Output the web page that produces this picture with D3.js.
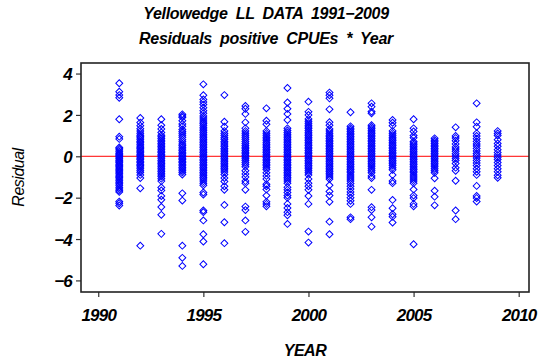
<!DOCTYPE html>
<html>
<head>
<meta charset="utf-8">
<script src="https://cdn.jsdelivr.net/npm/d3@7"></script>
<style>
  body { margin: 0; background: #fff; }
  svg text { font-family: "Liberation Sans", Arial, Helvetica, sans-serif; font-style: italic; font-weight: bold; fill: #000; }
  .tick-label { font-size: 17px; letter-spacing: -0.8px; }
  .title { font-size: 16px; word-spacing: 4px; letter-spacing: -0.3px; }
  .axis-title { font-size: 16px; letter-spacing: -0.5px; }
</style>
</head>
<body>
<svg id="chart"></svg>
<script>
// residuals of positive CPUEs, one array per year
const years = [1991, 1992, 1993, 1994, 1995, 1996, 1997, 1998, 1999, 2000,
  2001, 2002, 2003, 2004, 2005, 2006, 2007, 2008, 2009];

const r1991 = [3.53, 3.12, 2.96, 2.83, 1.79, 0.95, 0.84, 0.43, 0.36, 0.3, 0.22, 0.15, 0.1, 0.04, -0.02, -0.08, -0.13, -0.2, -0.26, -0.31, -0.38, -0.45, -0.5, -0.57, -0.63, -0.7, -0.76, -0.82, -0.9, -0.97, -1.03, -1.1, -1.18, -1.25, -1.33, -1.4, -1.5, -1.58, -1.66, -1.72, -2.19, -2.27, -2.38];
const r1992 = [1.85, 1.63, 1.48, 1.33, 1.22, 1.12, 1.02, 0.95, 0.88, 0.8, 0.72, 0.66, 0.58, 0.5, 0.44, 0.38, 0.3, 0.24, 0.17, 0.1, 0.04, -0.03, -0.1, -0.16, -0.24, -0.3, -0.38, -0.45, -0.52, -0.6, -0.7, -0.78, -0.9, -1.05, -1.55, -4.32];
const r1993 = [1.79, 1.5, 1.32, 1.15, 1.02, 0.94, 0.86, 0.78, 0.7, 0.62, 0.55, 0.47, 0.4, 0.32, 0.25, 0.18, 0.1, 0.03, -0.04, -0.12, -0.2, -0.27, -0.35, -0.42, -0.5, -0.58, -0.66, -0.74, -0.82, -0.9, -0.98, -1.08, -1.2, -1.51, -1.65, -1.92, -2.1, -2.45, -2.83, -3.75];
const r1994 = [2.03, 1.95, 1.88, 1.72, 1.56, 1.45, 1.3, 1.2, 1.12, 1.02, 0.92, 0.8, 0.7, 0.6, 0.52, 0.44, 0.35, 0.28, 0.2, 0.12, 0.05, -0.02, -0.1, -0.16, -0.24, -0.3, -0.38, -0.46, -0.54, -0.62, -0.7, -0.78, -0.88, -1.79, -2.14, -4.32, -4.91, -5.3];
const r1995 = [3.48, 2.95, 2.75, 2.62, 2.5, 2.35, 2.2, 2.08, 1.95, 1.85, 1.75, 1.66, 1.58, 1.5, 1.4, 1.32, 1.24, 1.15, 1.06, 0.98, 0.9, 0.82, 0.74, 0.66, 0.58, 0.5, 0.42, 0.34, 0.26, 0.18, 0.1, 0.02, -0.06, -0.14, -0.22, -0.3, -0.38, -0.46, -0.54, -0.62, -0.7, -0.78, -0.86, -0.94, -1.02, -1.1, -1.2, -1.3, -1.4, -1.75, -1.85, -2.62, -2.7, -3.1, -3.77, -4.12, -5.22];
const r1996 = [2.96, 1.67, 1.43, 1.22, 1.1, 1.0, 0.9, 0.82, 0.72, 0.64, 0.55, 0.47, 0.38, 0.3, 0.22, 0.14, 0.06, -0.02, -0.1, -0.18, -0.26, -0.34, -0.42, -0.5, -0.58, -0.66, -0.76, -0.88, -1.05, -1.22, -1.45, -1.62, -2.35, -3.19, -4.2];
const r1997 = [2.43, 2.3, 2.05, 1.64, 1.35, 1.22, 1.12, 1.02, 0.92, 0.82, 0.72, 0.62, 0.52, 0.44, 0.36, 0.28, 0.2, 0.12, 0.04, -0.04, -0.12, -0.2, -0.3, -0.4, -0.5, -0.7, -0.85, -1.0, -1.2, -1.3, -1.62, -2.43, -2.6, -3.1, -3.65];
const r1998 = [2.32, 1.72, 1.55, 1.22, 1.12, 1.02, 0.92, 0.84, 0.75, 0.66, 0.58, 0.5, 0.42, 0.34, 0.26, 0.18, 0.1, 0.02, -0.06, -0.14, -0.22, -0.3, -0.38, -0.46, -0.55, -0.64, -0.8, -0.95, -1.1, -1.35, -1.45, -1.6, -1.9, -2.2, -2.3, -2.42];
const r1999 = [3.3, 2.6, 2.3, 2.05, 1.75, 1.35, 1.25, 1.15, 1.06, 0.98, 0.9, 0.82, 0.74, 0.66, 0.58, 0.5, 0.42, 0.34, 0.26, 0.18, 0.1, 0.02, -0.06, -0.14, -0.22, -0.3, -0.38, -0.46, -0.54, -0.62, -0.7, -0.78, -0.86, -0.94, -1.02, -1.1, -1.2, -1.3, -1.5, -1.62, -1.75, -1.9, -2.0, -2.3, -2.5, -2.7, -2.85, -3.27];
const r2000 = [2.64, 2.15, 2.0, 1.8, 1.7, 1.6, 1.5, 1.42, 1.34, 1.25, 1.16, 1.08, 1.0, 0.92, 0.84, 0.76, 0.68, 0.6, 0.52, 0.44, 0.36, 0.28, 0.2, 0.12, 0.04, -0.04, -0.12, -0.2, -0.28, -0.36, -0.44, -0.52, -0.6, -0.7, -0.8, -0.9, -1.1, -1.3, -1.45, -1.62, -1.92, -2.3, -3.64, -4.17];
const r2001 = [3.08, 2.95, 2.8, 2.27, 1.65, 1.5, 1.32, 1.22, 1.12, 1.02, 0.94, 0.86, 0.78, 0.7, 0.62, 0.54, 0.46, 0.38, 0.3, 0.22, 0.14, 0.06, -0.02, -0.1, -0.18, -0.26, -0.34, -0.42, -0.5, -0.58, -0.66, -0.74, -0.82, -0.9, -1.0, -1.1, -1.4, -1.7, -1.9, -2.2, -3.16, -3.77];
const r2002 = [2.13, 1.45, 1.36, 1.28, 1.2, 1.12, 1.04, 0.96, 0.88, 0.8, 0.72, 0.64, 0.56, 0.48, 0.4, 0.32, 0.24, 0.16, 0.08, 0.0, -0.08, -0.16, -0.24, -0.32, -0.4, -0.48, -0.56, -0.64, -0.72, -0.8, -0.9, -1.0, -1.1, -1.2, -1.32, -1.45, -1.58, -1.72, -1.85, -2.0, -2.15, -2.3, -2.95, -3.04];
const r2003 = [2.56, 2.4, 2.16, 2.08, 1.5, 1.42, 1.34, 1.26, 1.18, 1.1, 1.02, 0.94, 0.86, 0.78, 0.7, 0.62, 0.54, 0.46, 0.38, 0.3, 0.22, 0.14, 0.06, -0.02, -0.1, -0.18, -0.26, -0.34, -0.42, -0.5, -0.6, -0.7, -0.8, -0.95, -1.05, -1.62, -2.46, -2.6, -2.95, -3.4];
const r2004 = [1.76, 1.62, 1.48, 1.22, 1.12, 1.02, 0.92, 0.84, 0.76, 0.68, 0.6, 0.52, 0.44, 0.36, 0.28, 0.2, 0.12, 0.04, -0.04, -0.12, -0.2, -0.28, -0.36, -0.45, -0.55, -0.65, -0.9, -1.2, -1.3, -2.11, -2.51, -2.8, -2.92, -3.2];
const r2005 = [1.79, 1.35, 1.2, 1.0, 0.9, 0.72, 0.64, 0.56, 0.48, 0.4, 0.32, 0.24, 0.16, 0.08, 0.0, -0.08, -0.16, -0.24, -0.32, -0.4, -0.48, -0.56, -0.64, -0.72, -0.8, -0.9, -1.0, -1.1, -1.2, -1.3, -1.6, -1.9, -2.02, -2.3, -2.42, -4.25];
const r2006 = [0.87, 0.78, 0.7, 0.62, 0.54, 0.46, 0.38, 0.3, 0.22, 0.14, 0.06, -0.02, -0.1, -0.18, -0.26, -0.34, -0.42, -0.5, -0.6, -0.7, -0.8, -1.06, -1.66, -1.95, -2.37];
const r2007 = [1.4, 0.98, 0.88, 0.75, 0.6, 0.45, 0.35, 0.25, 0.12, 0.02, -0.1, -0.2, -0.35, -0.55, -0.7, -1.18, -2.62, -3.04];
const r2008 = [2.56, 1.64, 1.43, 1.11, 0.98, 0.85, 0.72, 0.6, 0.5, 0.38, 0.26, 0.14, 0.04, -0.08, -0.2, -0.32, -0.45, -0.6, -0.75, -0.9, -1.43, -1.92, -2.02, -2.19];
const r2009 = [1.22, 1.1, 1.0, 0.8, 0.62, 0.48, 0.32, 0.18, 0.06, -0.05, -0.16, -0.3, -0.45, -0.6, -0.75, -0.92, -1.04];

const residualsByYear = [r1991, r1992, r1993, r1994, r1995, r1996, r1997, r1998, r1999, r2000,
  r2001, r2002, r2003, r2004, r2005, r2006, r2007, r2008, r2009];

const xTicks = [1990, 1995, 2000, 2005, 2010];
const yTicks = [-6, -4, -2, 0, 2, 4];
const titleLines = ['Yellowedge LL DATA 1991\u22122009', 'Residuals positive CPUEs * Year'];

const W = 538;
const H = 364;
const margin = { top: 63, right: 9, bottom: 72, left: 81 };
const width = W - margin.left - margin.right;
const height = H - margin.top - margin.bottom;

const points = [];
years.forEach((yr, i) => {
  residualsByYear[i].forEach((v) => points.push({ year: yr, value: v }));
});

const svg = d3.select('#chart')
  .attr('width', W)
  .attr('height', H);

const chart = svg.append('g')
  .attr('transform', `translate(${margin.left},${margin.top})`);

const xScale = d3.scaleLinear()
  .domain([1989.18, 2010.49])
  .range([0, width]);

const yScale = d3.scaleLinear()
  .domain([-6.56, 4.51])
  .range([height, 0]);

// axes (ticks point outward)
const xAxis = chart.append('g')
  .attr('transform', `translate(0,${height})`)
  .call(d3.axisBottom(xScale).tickValues(xTicks).tickFormat(d3.format('d'))
    .tickSize(5).tickPadding(12));

const yAxis = chart.append('g')
  .call(d3.axisLeft(yScale).tickValues(yTicks).tickSize(5).tickPadding(4));

[xAxis, yAxis].forEach((ax) => {
  ax.select('.domain').remove();
  ax.selectAll('line').attr('stroke', '#333').attr('stroke-width', 1.2);
  ax.selectAll('text').attr('class', 'tick-label').attr('fill', '#000');
});
yAxis.selectAll('text').attr('dy', '0.36em');

// zero reference line
chart.append('line')
  .attr('x1', 0)
  .attr('x2', width)
  .attr('y1', yScale(0))
  .attr('y2', yScale(0))
  .attr('stroke', '#ff0000')
  .attr('stroke-width', 1);

// open diamond markers
const diamond = d3.symbol().type(d3.symbolSquare).size(24);
chart.append('g')
  .selectAll('path')
  .data(points)
  .join('path')
  .attr('d', diamond)
  .attr('transform', (d) => `translate(${xScale(d.year)},${yScale(d.value)}) rotate(45)`)
  .attr('fill', 'none')
  .attr('stroke', '#0000ff')
  .attr('stroke-width', 1);

// plot frame
chart.append('rect')
  .attr('x', 0)
  .attr('y', 0)
  .attr('width', width)
  .attr('height', height)
  .attr('fill', 'none')
  .attr('stroke', '#222')
  .attr('stroke-width', 1.6);

// titles
svg.selectAll('.title')
  .data(titleLines)
  .join('text')
  .attr('class', 'title')
  .attr('x', 266)
  .attr('y', (d, i) => 19 + i * 25)
  .attr('text-anchor', 'middle')
  .text((d) => d);

svg.append('text')
  .attr('class', 'axis-title')
  .attr('x', margin.left + width / 2)
  .attr('y', 356)
  .attr('text-anchor', 'middle')
  .text('YEAR');

svg.append('text')
  .attr('class', 'axis-title')
  .attr('transform', `translate(24,${margin.top + height / 2}) rotate(-90)`)
  .attr('text-anchor', 'middle')
  .style('font-weight', 'normal')
  .text('Residual');
</script>
</body>
</html>
